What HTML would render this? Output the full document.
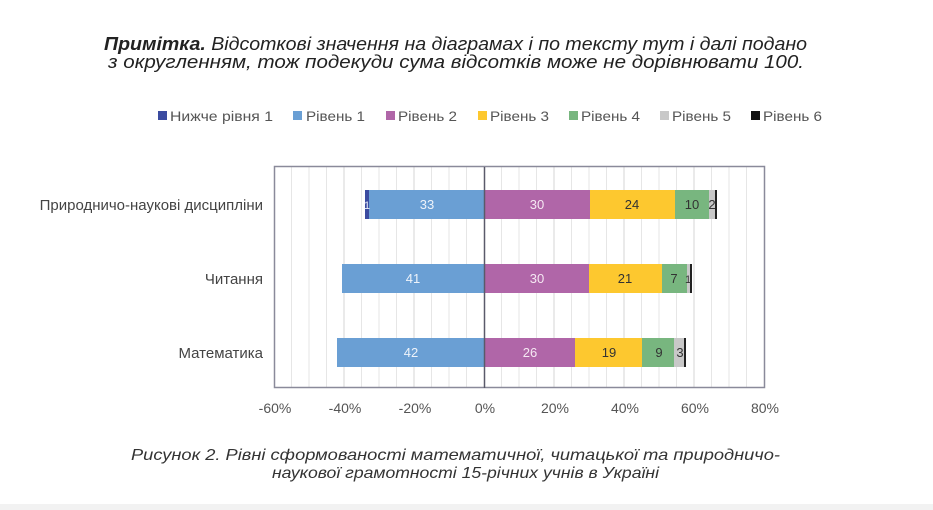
<!DOCTYPE html>
<html><head><meta charset="utf-8"><style>
body{margin:0;background:#fff;}
svg{display:block;}
text{font-family:"Liberation Sans","DejaVu Sans",sans-serif;}
</style></head><body>
<svg width="933" height="510" viewBox="0 0 933 510" xmlns="http://www.w3.org/2000/svg">
<rect x="0" y="0" width="933" height="510" fill="#fff"/>
<rect x="0" y="504" width="933" height="6" fill="#f2f2f2"/>
<text x="104" y="50" font-size="18" font-style="italic" fill="#222" textLength="703" lengthAdjust="spacingAndGlyphs"><tspan font-weight="bold">Примітка.</tspan> Відсоткові значення на діаграмах і по тексту тут і далі подано</text>
<text x="108" y="68" font-size="18" font-style="italic" fill="#222" textLength="696" lengthAdjust="spacingAndGlyphs">з округленням, тож подекуди сума відсотків може не дорівнювати 100.</text>
<g font-size="14" fill="#555">
<rect x="158" y="111" width="9" height="9" fill="#3b4ba0"/><text x="170" y="121" textLength="103" lengthAdjust="spacingAndGlyphs">Нижче рівня 1</text>
<rect x="293" y="111" width="9" height="9" fill="#6a9fd4"/><text x="306" y="121" textLength="59" lengthAdjust="spacingAndGlyphs">Рівень 1</text>
<rect x="386" y="111" width="9" height="9" fill="#b066a8"/><text x="398" y="121" textLength="59" lengthAdjust="spacingAndGlyphs">Рівень 2</text>
<rect x="478" y="111" width="9" height="9" fill="#fdc82f"/><text x="490" y="121" textLength="59" lengthAdjust="spacingAndGlyphs">Рівень 3</text>
<rect x="569" y="111" width="9" height="9" fill="#78b67f"/><text x="581" y="121" textLength="59" lengthAdjust="spacingAndGlyphs">Рівень 4</text>
<rect x="660" y="111" width="9" height="9" fill="#c8c8c8"/><text x="672" y="121" textLength="59" lengthAdjust="spacingAndGlyphs">Рівень 5</text>
<rect x="751" y="111" width="9" height="9" fill="#111"/><text x="763" y="121" textLength="59" lengthAdjust="spacingAndGlyphs">Рівень 6</text>
</g>
<g stroke="#e6e6e6" stroke-width="1">
<line x1="291.5" y1="167" x2="291.5" y2="388"/><line x1="309" y1="167" x2="309" y2="388"/><line x1="326.5" y1="167" x2="326.5" y2="388"/><line x1="361.5" y1="167" x2="361.5" y2="388"/><line x1="379" y1="167" x2="379" y2="388"/><line x1="396.5" y1="167" x2="396.5" y2="388"/><line x1="431.5" y1="167" x2="431.5" y2="388"/><line x1="449" y1="167" x2="449" y2="388"/><line x1="466.5" y1="167" x2="466.5" y2="388"/><line x1="501.5" y1="167" x2="501.5" y2="388"/><line x1="519" y1="167" x2="519" y2="388"/><line x1="536.5" y1="167" x2="536.5" y2="388"/><line x1="571.5" y1="167" x2="571.5" y2="388"/><line x1="589" y1="167" x2="589" y2="388"/><line x1="606.5" y1="167" x2="606.5" y2="388"/><line x1="641.5" y1="167" x2="641.5" y2="388"/><line x1="659" y1="167" x2="659" y2="388"/><line x1="676.5" y1="167" x2="676.5" y2="388"/><line x1="711.5" y1="167" x2="711.5" y2="388"/><line x1="729" y1="167" x2="729" y2="388"/><line x1="746.5" y1="167" x2="746.5" y2="388"/>
</g>
<g stroke="#d4d4d4" stroke-width="1">
<line x1="344" y1="167" x2="344" y2="388"/><line x1="414" y1="167" x2="414" y2="388"/><line x1="554" y1="167" x2="554" y2="388"/><line x1="624" y1="167" x2="624" y2="388"/><line x1="694" y1="167" x2="694" y2="388"/>
</g>
<rect x="274.5" y="166.5" width="490" height="221" fill="none" stroke="#8a8a9a" stroke-width="1.5"/>
<rect x="365" y="190" width="4" height="29" fill="#3b4ba0"/>
<rect x="369" y="190" width="115" height="29" fill="#6a9fd4"/>
<rect x="484" y="190" width="106" height="29" fill="#b066a8"/>
<rect x="590" y="190" width="85" height="29" fill="#fdc82f"/>
<rect x="675" y="190" width="34" height="29" fill="#78b67f"/>
<rect x="709" y="190" width="6" height="29" fill="#c8c8c8"/>
<rect x="715" y="190" width="2" height="29" fill="#222"/>
<rect x="342" y="264" width="142" height="29" fill="#6a9fd4"/>
<rect x="484" y="264" width="105" height="29" fill="#b066a8"/>
<rect x="589" y="264" width="73" height="29" fill="#fdc82f"/>
<rect x="662" y="264" width="25" height="29" fill="#78b67f"/>
<rect x="687" y="264" width="3" height="29" fill="#c8c8c8"/>
<rect x="690" y="264" width="2" height="29" fill="#222"/>
<rect x="337" y="338" width="147" height="29" fill="#6a9fd4"/>
<rect x="484" y="338" width="91" height="29" fill="#b066a8"/>
<rect x="575" y="338" width="67" height="29" fill="#fdc82f"/>
<rect x="642" y="338" width="32" height="29" fill="#78b67f"/>
<rect x="674" y="338" width="10" height="29" fill="#c8c8c8"/>
<rect x="684" y="338" width="2" height="29" fill="#222"/>
<line x1="484.5" y1="167" x2="484.5" y2="388" stroke="#5a5a6a" stroke-width="1.5"/>
<g font-size="13" text-anchor="middle">
<text x="367" y="209" fill="#e8ecf8" font-size="11">1</text>
<text x="427" y="209" fill="#eef3fa">33</text>
<text x="537" y="209" fill="#f5e8f3">30</text>
<text x="632" y="209" fill="#333">24</text>
<text x="692" y="209" fill="#333">10</text>
<text x="712" y="209" fill="#333">2</text>
<text x="413" y="283" fill="#eef3fa">41</text>
<text x="537" y="283" fill="#f5e8f3">30</text>
<text x="625" y="283" fill="#333">21</text>
<text x="674" y="283" fill="#333">7</text>
<text x="688" y="283" fill="#333" font-size="11">1</text>
<text x="411" y="357" fill="#eef3fa">42</text>
<text x="530" y="357" fill="#f5e8f3">26</text>
<text x="609" y="357" fill="#333">19</text>
<text x="659" y="357" fill="#333">9</text>
<text x="680" y="357" fill="#333">3</text>
</g>
<g font-size="15" fill="#444" text-anchor="end">
<text x="263" y="210">Природничо-наукові дисципліни</text>
<text x="263" y="284">Читання</text>
<text x="263" y="358">Математика</text>
</g>
<g font-size="14" fill="#555" text-anchor="middle">
<text x="275" y="413">-60%</text><text x="345" y="413">-40%</text><text x="415" y="413">-20%</text><text x="485" y="413">0%</text><text x="555" y="413">20%</text><text x="625" y="413">40%</text><text x="695" y="413">60%</text><text x="765" y="413">80%</text>
</g>
<text x="131" y="460" font-size="16" font-style="italic" fill="#333" textLength="649" lengthAdjust="spacingAndGlyphs">Рисунок 2. Рівні сформованості математичної, читацької та природничо-</text>
<text x="272" y="478" font-size="16" font-style="italic" fill="#333" textLength="387" lengthAdjust="spacingAndGlyphs">наукової грамотності 15-річних учнів в Україні</text>
</svg>
</body></html>
